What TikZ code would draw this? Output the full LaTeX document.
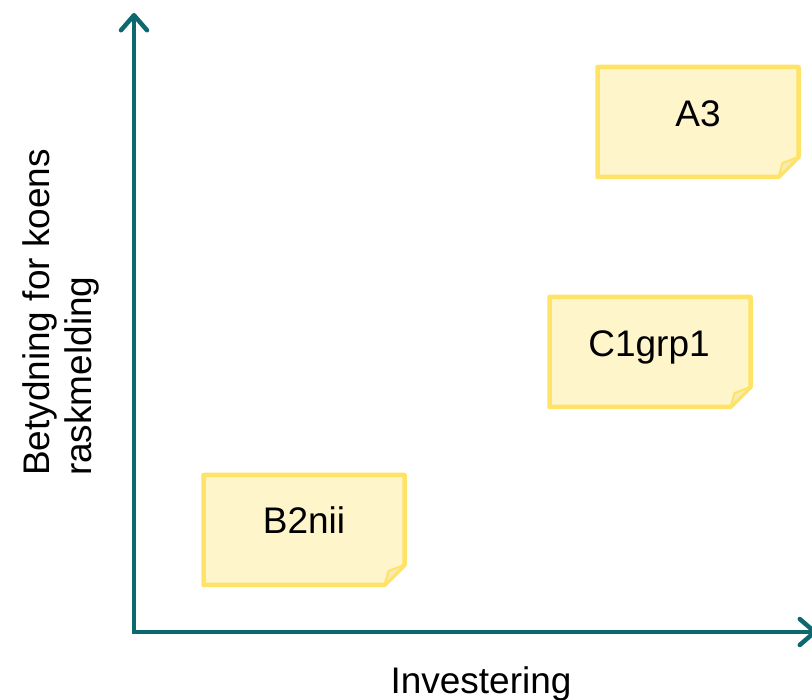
\documentclass[tikz,border=0pt]{standalone}
\usepackage{fontspec}
\setmainfont{Liberation Sans}
\usetikzlibrary{arrows.meta}
\definecolor{axiscol}{HTML}{0E686F}
\definecolor{notefill}{HTML}{FEF5CB}
\definecolor{noteborder}{HTML}{FFE366}
\definecolor{foldfill}{HTML}{F7EBB0}
\tikzset{
  axis/.style={line width=4.5pt, draw=axiscol, line join=miter,
    {Straight Barb[length=15pt,width=26pt,round]}-{Straight Barb[length=15pt,width=26pt,round]}},
  notebg/.style={minimum width=201pt, minimum height=110pt, inner sep=0pt, outer sep=0pt},
  noteedge/.style={draw=noteborder, fill=notefill, line width=4.5pt, line join=round},
  notefold/.style={fill=foldfill, draw=noteborder, line width=2pt, line join=round},
  lbl/.style={font=\fontsize{37}{42}\selectfont, inner sep=0pt, outer sep=0pt},
}
\newcommand{\stickynote}[1]{%
  \draw[noteedge] (#1.north west) -- (#1.north east) -- ([yshift=20pt]#1.south east)
    -- ([xshift=-20pt]#1.south east) -- (#1.south west) -- cycle;
  \draw[notefold] ([xshift=-20pt]#1.south east) -- ([xshift=-16pt,yshift=14pt]#1.south east)
    -- ([yshift=20pt]#1.south east) -- cycle;
}
\begin{document}
\begin{tikzpicture}[x=1pt,y=-1pt]
\useasboundingbox (0,0) rectangle (812,700);
% axes
\coordinate (ytop) at (134,13);
\coordinate (orig) at (134,632);
\coordinate (xend) at (817,632);
\draw[axis] (ytop) -- (orig) -- (xend);
% notes
\node[notebg] (a3box) at (698,122) {};
\node[notebg] (c1box) at (650,352) {};
\node[notebg] (b2box) at (304,530) {};
\stickynote{a3box}
\stickynote{c1box}
\stickynote{b2box}
\node[lbl, anchor=base] (a3) at (698,127) {A3};
\node[lbl, anchor=base] (c1) at (649,357) {C1grp1};
\node[lbl, anchor=base] (b2) at (304,534) {B2nii};
% axis labels
\node[lbl, anchor=base] (xlab) at (481,693) {Investering};
\node[lbl, rotate=90, align=left, anchor=north west] (ylab) at (23,476) {Betydning for koens\\raskmelding};
\end{tikzpicture}
\end{document}
